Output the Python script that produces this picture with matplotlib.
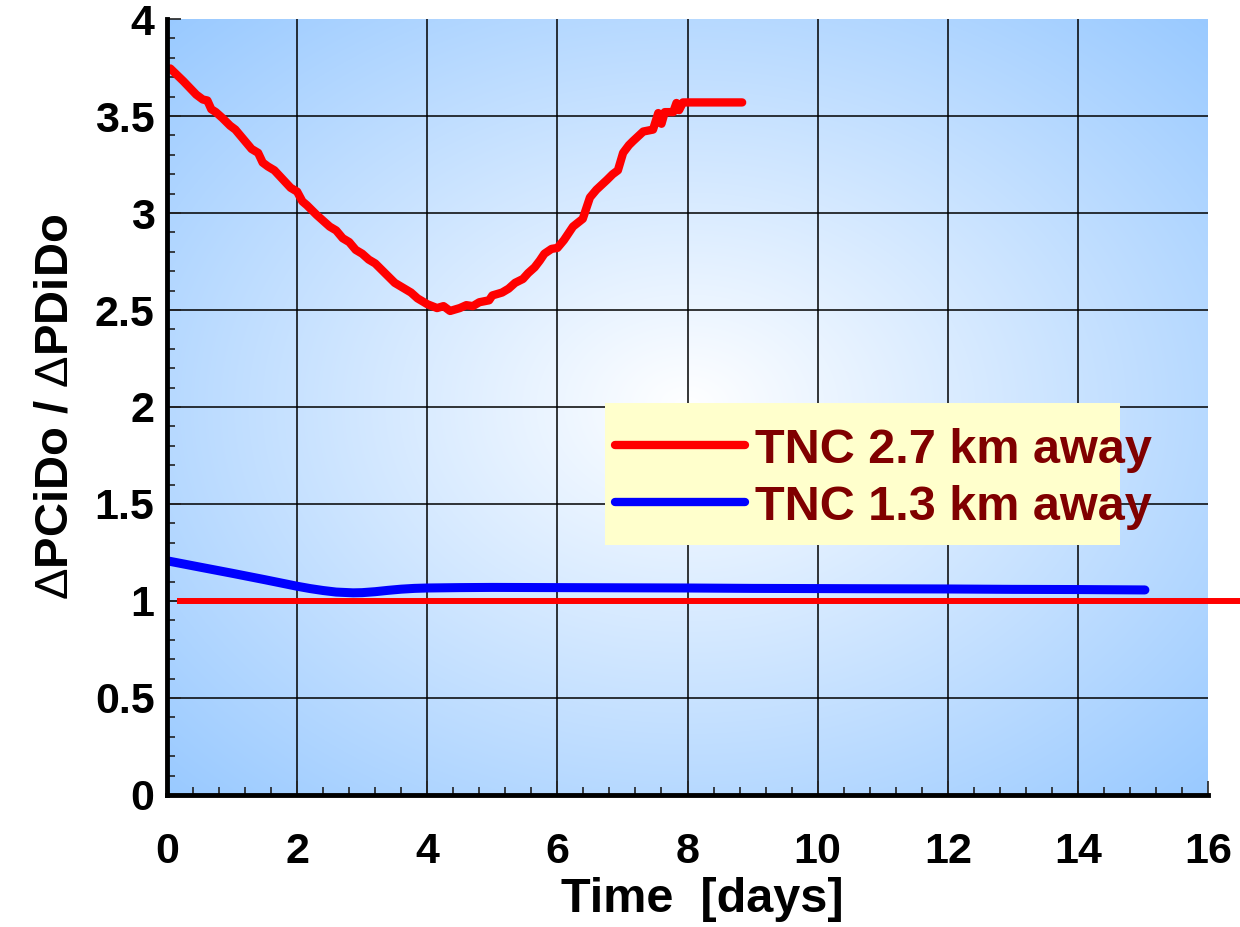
import matplotlib
matplotlib.use("Agg")
import matplotlib.pyplot as plt
import numpy as np
from matplotlib.patches import Rectangle
from matplotlib.lines import Line2D
from matplotlib.ticker import MultipleLocator

plt.rcParams["font.family"] = ["Liberation Sans", "DejaVu Sans"]
plt.rcParams["font.weight"] = "bold"
# thin (regular weight) delta like the Symbol glyph in the original
plt.rcParams["mathtext.fontset"] = "custom"
plt.rcParams["mathtext.rm"] = "Liberation Sans:weight=normal"
plt.rcParams["mathtext.it"] = "Liberation Sans:weight=normal"

# --- data -----------------------------------------------------------------
far_t = [0.05, 0.25, 0.45, 0.55, 0.62, 0.68, 0.75, 0.85, 0.97, 1.05, 1.3, 1.4,
         1.47, 1.55, 1.65, 1.9, 2.0, 2.08, 2.15, 2.3, 2.5, 2.6, 2.7, 2.8, 2.9,
         3.0, 3.1, 3.2, 3.35, 3.5, 3.6, 3.75, 3.85, 4.0, 4.15, 4.25, 4.35, 4.5,
         4.6, 4.7, 4.8, 4.95, 5.0, 5.15, 5.25, 5.35, 5.47, 5.55, 5.65, 5.73,
         5.8, 5.91, 6.0, 6.1, 6.24, 6.39, 6.45, 6.5, 6.6, 6.76, 6.85, 6.93,
         7.01, 7.1, 7.16, 7.32, 7.47, 7.55, 7.6, 7.65, 7.78, 7.83, 7.87, 7.93,
         8.84]
far_ratio = [3.745, 3.68, 3.61, 3.585, 3.58, 3.535, 3.52, 3.49, 3.45, 3.43,
             3.33, 3.31, 3.26, 3.24, 3.22, 3.13, 3.11, 3.06, 3.04, 2.99, 2.93,
             2.91, 2.87, 2.85, 2.81, 2.79, 2.76, 2.74, 2.69, 2.64, 2.62, 2.59,
             2.56, 2.53, 2.51, 2.52, 2.495, 2.51, 2.525, 2.52, 2.54, 2.55,
             2.575, 2.59, 2.61, 2.64, 2.66, 2.69, 2.72, 2.755, 2.79, 2.815,
             2.82, 2.86, 2.93, 2.97, 3.03, 3.08, 3.12, 3.17, 3.2, 3.22, 3.31,
             3.35, 3.37, 3.42, 3.43, 3.515, 3.46, 3.52, 3.52, 3.567, 3.53,
             3.57, 3.57]

near_t = [0.02, 0.5, 1.0, 1.5, 2.0, 2.2, 2.4, 2.6, 2.86, 3.0, 3.2, 3.4, 3.6,
          3.8, 4.0, 4.5, 5.0, 6.0, 7.0, 8.0, 9.0, 10.0, 11.0, 12.0, 13.0, 14.0,
          15.03]
near_ratio = [1.206, 1.175, 1.143, 1.11, 1.076, 1.064, 1.054, 1.046, 1.042,
              1.043, 1.048, 1.055, 1.061, 1.065, 1.067, 1.069, 1.07, 1.069,
              1.068, 1.067, 1.065, 1.064, 1.063, 1.062, 1.06, 1.059, 1.057]

ref_t = [0.15, 17.0]
ref_ratio = [1.0, 1.0]

labels = ["TNC 2.7 km away", "TNC 1.3 km away"]

fig = plt.figure(figsize=(12.4, 9.27), dpi=100)
ax = fig.add_axes([0.1347, 0.1424, 0.8395, 0.8371])

# radial white-to-blue background
ny, nx = 300, 400
yy, xx = np.mgrid[0:1:ny * 1j, 0:1:nx * 1j]
r = np.sqrt(((xx - 0.5) / 0.5) ** 2 + ((yy - 0.5) / 0.5) ** 2) / np.sqrt(2)
t = np.clip(r, 0, 1) ** 1.0
edge = np.array([0.60, 0.79, 1.0])
img = 1 - t[..., None] * (1 - edge)
ax.imshow(img, extent=[0, 1, 0, 1], transform=ax.transAxes, aspect="auto",
          origin="lower", zorder=0, interpolation="bilinear")

ax.plot(far_t, far_ratio, color="#ff0000", lw=6, solid_capstyle="round",
        solid_joinstyle="round", zorder=4)
ax.plot(near_t, near_ratio, color="#0000ff", lw=6.5, solid_capstyle="round",
        solid_joinstyle="round", zorder=4)
ax.plot(ref_t, ref_ratio, color="#ff0000", lw=4.3, solid_capstyle="butt",
        clip_on=False, zorder=4)

ax.set_xlim(0, 16)
ax.set_ylim(0, 4)
ax.xaxis.set_minor_locator(MultipleLocator(0.4))
ax.yaxis.set_minor_locator(MultipleLocator(0.1))
ax.set_xticks(np.arange(0, 17, 2))
ax.set_xticklabels([str(v) for v in range(0, 17, 2)])
ax.set_yticks(np.arange(0, 4.01, 0.5))
ax.set_yticklabels(["0", "0.5", "1", "1.5", "2", "2.5", "3", "3.5", "4"])

ax.grid(True, which="major", color="black", lw=1.1)
for gl in ax.xaxis.get_gridlines() + ax.yaxis.get_gridlines():
    gl.set_zorder(1)
ax.xaxis.get_gridlines()[0].set_visible(False)
ax.xaxis.get_gridlines()[-1].set_visible(False)
ax.yaxis.get_gridlines()[0].set_visible(False)
ax.yaxis.get_gridlines()[-1].set_visible(False)

for s in ("top", "right"):
    ax.spines[s].set_visible(False)
for s in ("left", "bottom"):
    ax.spines[s].set_linewidth(3.5)
    ax.spines[s].set_zorder(5)

ax.tick_params(axis="both", which="both", direction="in", color="#222222")
ax.tick_params(axis="both", which="major", length=10, width=1.2)
ax.tick_params(axis="both", which="minor", length=6, width=1.2)
ax.tick_params(axis="x", which="major", labelsize=31, pad=27)
ax.tick_params(axis="y", which="major", labelsize=31, pad=9)

ax.set_xlabel("Time  [days]", fontsize=35, fontweight="bold", labelpad=3)
ax.xaxis.label.set_x(0.514)
ax.set_ylabel(r"$\Delta$PCiDo / $\Delta$PDiDo", fontsize=34,
              fontweight="bold", labelpad=12)

# legend box drawn by hand (text overflows the box as in the original)
ax.add_patch(Rectangle((0.421, 0.322), 0.4945, 0.183, transform=ax.transAxes,
                       facecolor="#ffffcc", edgecolor="none", zorder=6))
for ly, col, lab in ((0.451, "#ff0000", labels[0]), (0.3776, "#0000ff", labels[1])):
    ax.add_line(Line2D([0.430, 0.555], [ly, ly], transform=ax.transAxes,
                       color=col, lw=6, solid_capstyle="round", zorder=7))
    ax.text(0.565, ly - 0.023, lab, transform=ax.transAxes, fontsize=35,
            fontweight="bold", color="#800000", va="baseline", ha="left",
            zorder=8, clip_on=False)

fig.savefig("out.png", dpi=100)
